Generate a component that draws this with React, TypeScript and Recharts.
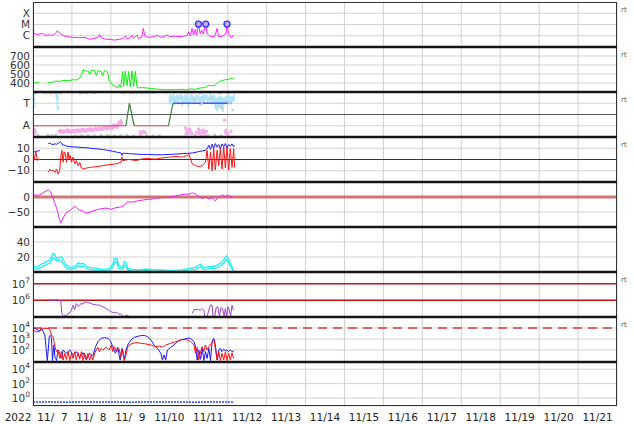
import React from 'react';
import { ComposedChart, Line, Scatter, XAxis, YAxis, CartesianGrid, ReferenceLine } from 'recharts';

type P = [number, number | null];
const pts = (a: P[]) => a.map(([h, v]) => ({ h, v }));

// hours since 2022-11-07 00:00
const dayTicks = [0, 24, 48, 72, 96, 120, 144, 168, 192, 216, 240, 264, 288, 312, 336, 360];
const noonTicks = [12, 36, 60, 84, 108, 132, 156, 180, 204, 228, 252, 276, 300, 324, 348];
const dayLabels = ['11/\u20077', '11/\u20078', '11/\u20079', '11/10', '11/11', '11/12', '11/13', '11/14', '11/15', '11/16', '11/17', '11/18', '11/19', '11/20', '11/21'];
const yearLabel = '2022';

// Panel 1: X-ray flux
const xrayFlux: P[] = [
  [0, 4.8e-5], [0.5, 1.6e-6], [3.1, 1.3e-6], [5.9, 1.6e-6], [8.0, 1.07e-6], [10.0, 1.2e-6], [12.0, 1.07e-6],
  [13.9, 1.6e-6], [14.9, 2.8e-6], [16.9, 1.6e-6], [19.0, 1.0e-6], [22, 8.2e-7], [25, 7.1e-7], [28, 6.7e-7],
  [32, 7.1e-7], [35, 4.8e-7], [40, 7.1e-7], [41, 1.3e-6], [42, 6.7e-7], [45, 4.8e-7], [48, 4.8e-7], [50, 4.1e-7],
  [53, 4.8e-7], [55, 5.4e-7], [57, 9.3e-7], [58, 5.1e-7], [60, 7.1e-7], [61, 1.07e-6], [62, 5.8e-7], [64, 1.15e-6],
  [65, 5.8e-7], [67, 7.1e-7], [68, 4.5e-6], [69, 9.3e-7], [71, 7.1e-7], [74, 8.2e-7], [77, 1.07e-6], [79, 7.1e-7],
  [83, 1.2e-6], [84, 8.2e-7], [87, 9.3e-7], [90, 8.2e-7], [93, 9.3e-7], [95, 1.07e-6], [96, 2.2e-6], [97, 9.3e-7],
  [98, 4.5e-6], [99, 1.15e-6], [100, 3.6e-6], [101, 1.15e-6], [102, 1.2e-5], [103, 1.6e-6], [104, 3.2e-6],
  [105, 1.4e-6], [106.5, 1.2e-5], [107.5, 1.4e-6], [109, 9.3e-7], [112, 8.2e-7], [113.5, 4.5e-6], [114.5, 8.2e-7],
  [117, 9.3e-7], [119, 1.6e-6], [119.6, 1.2e-5], [120.5, 1.6e-6], [122, 7.1e-7], [124, 1.07e-6],
];
const flareEvents: P[] = [[102, 1.1e-5], [106.5, 1.1e-5], [119.6, 1.1e-5]];
const xrayTicks = [1e-6, 1e-5, 1e-4];
const xrayClass = ['C', 'M', 'X'];

// Panel 2: solar wind speed
const windSpeed: P[] = [
  [0, 404], [1, 400], [2, 405], [3.9, 403], [6, null],
  [9.0, 400], [10, 404], [12, 407], [13.9, 422], [16, 418], [19, 429], [22, 426], [24.9, 437], [26.9, 433],
  [29, 455], [30, 492], [30.8, 546], [32, 539], [32.9, 528], [33.9, 539], [34.9, 492], [35.9, 539], [38, 539],
  [39, 481], [40, 539], [42, 528], [43, 481], [44.1, 539], [45.9, 528], [47.1, 418], [48, 400], [50, 371],
  [51.2, 356], [52, 345], [53.1, 382], [54.1, 356], [55.3, 528], [55.9, 363], [56.9, 535], [58, 371], [59, 528],
  [60, 356], [61, 535], [62, 363], [63.1, 528], [64.1, 356], [65, 345], [66.9, 349], [70, 345], [73.1, 338],
  [75.9, 334], [79, 327], [82, 323], [84.9, 327], [88, 323], [91, 330], [94.1, 323], [96.9, 334], [100, 330],
  [103.1, 345], [105.9, 349], [108, 371], [110, 371], [112, 371], [113.1, 393], [114.9, 418], [116.9, 429],
  [119, 437], [121, 444], [123.1, 451], [124.1, 437],
];
const speedTicks = [400, 500, 600, 700];

// Panel 3: IMF sector (A=1, T=3)
const sectorAway: P[] = [[0, 1], [57.3, 1], [59, null], [62.4, 1], [83.5, 1]];
const sectorTurn: P[] = [[57.3, 1], [59.4, 3], [62.4, 1], [70, null], [83.5, 1], [86.3, 3]];
const sectorToward: P[] = [[86.3, 3], [122.2, 3]];
const towardCloud: P[] = [
  [84.0, 3.0], [84.5, 3.8], [85.0, 2.9], [85.5, 3.7], [86.0, 3.2], [86.6, 3.85], [87.2, 2.8], [87.8, 3.6],
  [88.4, 3.1], [89.0, 3.8], [89.6, 2.9], [90.2, 3.7], [90.8, 3.3], [91.4, 3.85], [92.0, 2.7], [92.6, 3.6],
  [93.2, 3.0], [93.8, 3.8], [94.4, 3.1], [95.0, 3.7], [95.6, 2.6], [96.2, 3.5], [96.8, 3.0], [97.4, 3.8],
  [98.0, 3.2], [98.6, 3.7], [99.2, 2.9], [99.8, 3.6], [100.4, 3.1], [101.0, 3.8], [101.6, 3.3], [102.2, 3.7],
  [102.8, 2.8], [103.4, 3.6], [104.0, 3.2], [104.6, 3.85], [105.2, 3.0], [105.8, 3.7], [106.4, 3.3], [107.0, 3.8],
  [107.6, 2.9], [108.2, 3.6], [108.8, 3.2], [109.4, 3.8], [110.0, 2.9], [110.6, 3.7], [111.2, 3.0], [111.8, 3.8],
  [112.4, 2.5], [113.0, 3.5], [113.6, 2.3], [114.2, 3.6], [114.8, 2.6], [115.4, 3.7], [116.0, 2.4], [116.6, 3.6],
  [117.2, 2.2], [117.8, 3.5], [118.4, 2.9], [119.0, 3.7], [119.6, 3.0], [120.2, 3.8], [120.8, 3.1], [121.4, 3.7],
  [122.0, 2.9], [122.6, 3.6], [123.2, 3.1], [123.8, 3.8], [124.2, 3.2],
];
const towardDots: P[] = [
  [0.2, 3.5], [0.4, 3.0], [0.6, 2.7], [0.8, 3.3], [1.0, 3.8], [14.4, 3.9], [14.6, 3.6], [14.7, 3.8], [14.8, 3.3],
  [15.0, 3.0], [15.2, 2.7], [15.4, 2.5], [15.1, 3.5],
];
const awayBand: P[] = [
  [15.5, 0.4], [17, 0.55], [18.5, 0.45], [20, 0.5], [21.5, 0.6], [23, 0.45], [24.5, 0.55], [26, 0.5], [27.5, 0.6],
  [29, 0.55], [30.5, 0.65], [32, 0.55], [33.5, 0.6], [35, 0.7], [36.5, 0.6], [38, 0.7], [39.5, 0.65], [41, 0.75],
  [42.5, 0.7], [44, 0.85], [45.5, 0.75], [47, 0.9], [48.5, 0.8], [50, 1.0], [51.5, 0.9], [53, 1.2], [54, 1.35], [55, 1.1],
];
const awayDots: P[] = [
  [0.2, 0.5], [0.6, 0.3], [1, 0.7], [1.5, 0.4], [66, 0.45], [67, 0.35], [68, 0.5], [69, 0.4], [94, 0.8], [94.5, 0.3],
  [95, 0.6], [96, 0.35], [96.5, 0.7], [97, 0.5], [98, 0.3], [101, 0.4], [102, 0.7], [102.5, 0.3], [103, 0.55],
  [104, 0.35], [105, 0.6], [105.5, 0.4], [106, 0.25], [107, 0.5], [118, 1.5], [118.5, 0.4], [119, 0.6], [120, 0.3],
  [122, 0.5],
];
const grayDots: P[] = [
  [0.5, 3.9], [2, 3.95], [7, 3.9], [9, 3.95], [11, 3.9], [13, 3.95], [17, 3.9], [24, 3.95], [29, 3.9], [31, 3.95],
  [33, 3.9], [36, 3.95], [38, 3.9], [55, 3.9], [57, 3.95], [60, 3.9], [62, 3.95], [64, 3.9], [66, 3.95], [68, 3.9],
  [70, 3.95], [72, 3.9], [74, 3.95], [95, 3.9], [98, 3.95], [103, 3.9], [109, 3.95], [115, 3.9], [121, 3.95],
  [100, 3.3], [104, 2.9], [110, 3.5], [116, 2.6], [121, 3.0], [123, 2.4],
  [3, 0.15], [9, 0.2], [10, 0.1], [12, 0.15], [14, 0.2], [26, 0.1], [30, 0.15], [34, 0.2], [38, 0.1], [42, 0.15],
  [46, 0.2], [50, 0.1], [54, 0.15], [58, 0.2], [62, 0.1], [66, 0.15], [70, 0.2], [74, 0.1], [78, 0.15], [100, 0.2],
  [104, 0.1], [108, 0.15], [112, 0.2], [116, 0.1], [120, 0.15],
];
const sectorTicks = [1, 2, 3];
const sectorLabels: Record<number, string> = { 1: 'A', 2: '', 3: 'T' };

// Panel 4: IMF Bt and Bz
const imfBt: P[] = [
  [0.6, 6.7], [1.8, 7.3], [3.1, 7.6], [4.3, 7.9], [6, null],
  [9.4, 14.2], [10.4, 14.5], [11.4, 13.6], [12.4, 13.3], [13.5, 13.9], [14.5, 13.6], [15.5, 14.2], [16.1, 14.8],
  [16.9, 15.8], [17.6, 14.5], [18.2, 12.7], [19, 13.0], [20.6, 11.8], [22.7, 11.5], [24.7, 11.2], [27.8, 11.0],
  [30.8, 10.6], [33.9, 10.3], [36.9, 9.7], [40, 9.4], [43.1, 8.8], [46.1, 8.2], [49.2, 7.3], [52, 6.4], [54.3, 5.8],
  [54.9, 3.6], [55.3, 5.5], [57.3, 5.5], [59.4, 5.2], [63.5, 4.8], [67.6, 4.5], [71, 4.5], [75.7, 4.2], [79.8, 4.2],
  [83.9, 4.5], [88, 4.8], [92, 5.2], [95.1, 5.5], [98.2, 5.8], [102.2, 7.0], [104.3, 7.6], [106.3, 8.2], [107.3, 9.5],
  [108.4, 12.7], [109.4, 9.0], [110.4, 13.6], [111.4, 10.0], [112.4, 14.2], [113.5, 11.0], [114.5, 13.3],
  [115.5, 9.5], [116.5, 13.9], [117.6, 11.5], [118.6, 14.2], [119.6, 10.3], [120.6, 13.3], [121.6, 11.8],
  [122.7, 13.9], [123.7, 11.2], [124.2, 12.7],
];
const imfBz: P[] = [
  [0, 3.6], [0.6, -0.9], [1.0, 2.1], [1.8, 6.7], [2.7, -0.9], [3.5, 0.6], [4.3, -0.3], [6, null],
  [9.4, -11.5], [10.4, -8.5], [11.4, -10], [12.4, -9.4], [13.5, -11.5], [14.5, -8.5], [15.5, -13], [16.5, -9.4],
  [17.1, 2.1], [17.8, 8.2], [18.6, -2.4], [19.2, 6.7], [20.0, 5.2], [20.6, -2.4], [21.6, 6.7], [22.2, 0.6],
  [22.9, 3.6], [23.7, -2.4], [24.7, 2.1], [25.7, -3.9], [26.7, -0.9], [27.8, -5.5], [28.8, -2.4], [29.8, -7.6],
  [30.8, -8.5], [32.9, -7.6], [34.9, -7.0], [39, -6.4], [43.1, -5.5], [47.1, -4.5], [51.2, -3.9], [54.3, -2.4],
  [54.9, 2.1], [55.3, -0.9], [59.4, 0], [63.5, -0.9], [67.6, 0.6], [71, 0.9], [75.7, 0.3], [79.8, 1.5], [83.9, 2.1],
  [88, 2.7], [92, 2.1], [95.1, 3.6], [96.1, 4.5], [98.2, -3.9], [100.2, -5.5], [102.2, -6.4], [104.3, -5.5],
  [106.3, -2.4], [107.3, 8.2], [108.4, -8.5], [109.4, 6.7], [110.4, -10], [111.4, 9.7], [112.4, -9.4], [113.5, 8.2],
  [114.5, -5.5], [115.5, 9.7], [116.5, -8.5], [117.6, 11.2], [118.6, -7.6], [119.6, 11.2], [120.6, -9.4],
  [121.6, 9.7], [122.7, -7.0], [123.7, 9.7], [124.3, -7.0],
];
const imfTicks = [-10, 0, 10];

// Panel 5: Dst
const dstIndex: P[] = [
  [0, 10], [1.2, 6.7], [3.3, 5.6], [5.3, 10], [7.3, 17.8], [9.4, 23.3], [10.8, 17.8], [12.0, 1.1], [13.5, -21],
  [14.9, -43], [16.1, -71], [17.1, -86], [18.0, -77], [19.0, -66], [20.2, -54], [21.6, -49], [23.7, -41],
  [25.3, -32], [26.7, -34], [28.4, -43], [30.4, -46], [32.4, -54], [34.5, -51], [36.9, -47], [39.0, -43],
  [42.0, -39], [45.1, -37], [48.2, -41], [50.8, -36], [53.3, -34], [55.3, -32], [56.9, -23], [58.4, -16],
  [61.4, -17], [64.5, -13], [67.6, -10], [70.6, -8], [73.7, -7], [76.7, -3], [79.8, -2], [83.9, -1], [88.0, 3],
  [91.0, 7], [94.1, 10], [96.1, 9], [98.2, 14], [100.2, 10], [102.2, 1], [104.3, -4], [106.3, -1], [108.4, -7],
  [110.4, -1], [111.4, -8], [112.4, -13], [113.7, -4], [115.5, 1], [116.9, 7], [118.6, 1], [120.0, 6], [121.6, 1],
  [123.7, 1],
];
const dstTicks = [-50, 0];

// Panel 6: two cyan indices
const indexUpper: P[] = [
  [0, 8], [2.2, 6.2], [4.3, 9.3], [6.3, 11.6], [8.4, 13.8], [10.4, 16], [12.4, 24.9], [13.5, 22.7], [14.5, 18.2],
  [16.1, 19.6], [17.6, 20.4], [18.6, 16], [20.6, 9.3], [22.7, 6.2], [24.7, 6.7], [26.7, 9.3], [27.8, 12.4],
  [28.8, 10.7], [30.8, 11.6], [32.9, 8], [34.9, 6.2], [39, 4.9], [43.1, 3.6], [47.1, 4.4], [49.2, 10.7],
  [50.2, 18.2], [51.8, 18.2], [52.7, 9.3], [54.3, 6.2], [55.3, 6.2], [56.3, 13.8], [57.3, 12.4], [58.4, 4.9],
  [61.4, 3.6], [65.5, 2.7], [69.6, 4.0], [73.7, 2.7], [79.8, 2.7], [85.9, 1.8], [92, 2.7], [96.1, 4.9], [100.2, 6.2],
  [103.3, 10.7], [105.3, 6.2], [108.4, 7.1], [112.4, 8], [115.5, 11.6], [117.6, 16.9], [119, 21.3], [120.2, 18.2],
  [121.2, 13.8], [122.2, 9.3], [123.7, 2.7],
];
const indexLower: P[] = [
  [0, 5], [2.2, 3.5], [4.3, 5.5], [6.3, 7.5], [8.4, 10], [10.4, 12], [12.4, 19], [13.5, 17], [14.5, 15], [16.1, 16],
  [17.6, 14], [18.6, 11], [20.6, 5.5], [22.7, 3.5], [24.7, 4], [26.7, 6], [27.8, 8.5], [28.8, 7], [30.8, 8],
  [32.9, 5], [34.9, 3.5], [39, 2.5], [43.1, 1.5], [47.1, 2], [49.2, 6], [50.2, 13], [51.8, 13], [52.7, 5],
  [54.3, 3.5], [55.3, 3.5], [56.3, 9], [57.3, 8], [58.4, 2.5], [61.4, 1.5], [65.5, 1], [69.6, 2], [73.7, 1],
  [79.8, 1], [85.9, 0.7], [92, 1.2], [96.1, 2.5], [100.2, 3.5], [103.3, 7], [105.3, 3.5], [108.4, 4.5], [112.4, 5],
  [115.5, 8], [117.6, 12], [119, 16.5], [120.2, 14], [121.2, 9.5], [122.2, 5.5], [123.7, 1],
];
const indexTicks = [20, 40];

// Panel 7: electron flux
const electronFlux: P[] = [
  [9.4, 1.1e6], [10.4, 1e6], [11.4, 1.15e6], [12.4, 1e6], [14.5, 1.1e6], [16.1, 1e6], [17.1, 9.1e5], [17.8, 1.65e5],
  [18.6, 1.05e5], [19.6, 1.3e5], [20.6, 1.14e5], [21.6, 1.65e5], [22.7, 1.8e5], [23.7, 2.6e5], [24.7, 5.1e5],
  [25.7, 2.8e5], [26.7, 6.4e5], [27.8, 4.4e5], [28.8, 5.1e5], [29.8, 6.9e5], [30.8, 5.8e5], [31.8, 8e5],
  [32.9, 7.6e5], [34.9, 6.9e5], [36.9, 5.8e5], [39, 5.3e5], [41, 5.1e5], [43.1, 4.1e5], [45.1, 3.2e5],
  [47.1, 2.4e5], [48.2, 2.1e5], [49.2, 1.9e5], [50.2, 1.8e5], [51.6, 1.9e5], [52.9, 1.5e5], [54.3, 1.45e5],
  [55.3, 1.14e5], [56.3, 1.05e5], [57.3, 1.2e5], [58.4, 1.3e5], [59, 1.05e5], [60, null],
  [98.2, 1.65e5], [99.2, 2.8e5], [101.2, 2.8e5], [103.3, 2.6e5], [104.3, 3.2e5], [105.3, 2.6e5], [105.9, 1.14e5],
  [107.3, 1.05e5], [108.4, 2.6e5], [109.4, 5.1e5], [110.4, 5.1e5], [111.0, 1.14e5], [112.0, 1.05e5],
  [112.9, 3.7e5], [113.9, 4.1e5], [114.9, 1.14e5], [115.9, 3.7e5], [116.9, 3.2e5], [117.8, 1.14e5], [118.6, 3.2e5],
  [119.4, 1.14e5], [120.2, 4.1e5], [121.0, 2.6e5], [121.8, 1.14e5], [122.7, 5.1e5], [123.5, 2.6e5],
];
const electronTicks = [1e6, 1e7];
const electronAlerts = [1e6, 1e7];

// Panel 8: proton flux
const protonBlue: P[] = [
  [0, 1.15e4], [1.2, 9.3e3], [2.2, 7.6e3], [3.9, 5.7e3], [5.3, 9.3e3], [6.3, 4.6e3], [7.3, 2.3e3], [8.0, 200],
  [8.8, 10.7], [9.4, 100], [10.0, 1.6e3], [10.8, 2.3e3], [11.4, 1.15e3], [12.0, 10.7], [12.9, 280], [13.5, 25],
  [14.5, 10.7], [15.5, 100], [16.5, 50], [17.6, 17], [18.6, 100], [20.6, 50], [22.7, 100], [24.7, 35], [26.7, 70],
  [28.8, 21], [30.8, 57], [32.9, 12], [34.9, 50], [36.9, 28], [38.6, 200], [40, 570], [42, 1.15e3], [44.1, 1.3e3],
  [46.1, 1.15e3], [47.6, 700], [49.2, 200], [50.8, 50], [52.2, 175], [53.7, 12], [54.9, 140], [56.3, 12], [57.3, 100],
  [58.4, 280], [60.4, 810], [62.4, 1.4e3], [65.5, 1.9e3], [68.6, 2.15e3], [70.6, 1.6e3], [72.7, 810], [74.7, 280],
  [76.7, 140], [78.8, 50], [79.8, 12], [80.8, 35], [81.8, 12], [82.9, 100], [84.9, 175], [86.9, 280], [89, 570],
  [91, 810], [93.1, 940], [95.1, 1.15e3], [97.1, 1.15e3], [99.2, 570], [100.2, 200], [101.2, 12], [102.2, 100],
  [103.3, 14], [104.3, 140], [105.3, 10.7], [106.3, 70], [107.3, 17], [108.4, 140], [109.4, 10.7], [110.4, 570],
  [111.4, 1.15e3], [112.4, 280], [113.5, 12], [114.5, 100], [115.5, 140], [116.5, 70], [117.6, 115], [118.6, 87],
  [119.6, 100], [120.6, 70], [121.6, 100], [122.7, 70], [123.7, 81],
];
const protonRed: P[] = [
  [0, 7.6e3], [1.2, 5e3], [2.2, 4.6e3], [3.9, 4.6e3], [5.3, 7.6e3], [7.3, 9.3e3], [9.4, 9.3e3], [10.4, 6.6e3],
  [11.4, 2.3e3], [12.4, 1.6e3], [13.5, 200], [14.5, 70], [15.5, 100], [16.5, 17], [17.6, 70], [18.6, 12], [19.6, 50],
  [20.6, 14], [21.6, 70], [22.7, 10.7], [23.7, 50], [24.7, 17], [25.7, 70], [26.7, 12], [27.8, 57], [28.8, 14],
  [29.8, 70], [30.8, 10.7], [31.8, 50], [32.9, 17], [33.9, 50], [34.9, 12], [35.9, 35], [36.9, 12], [38, 50], [39, 100],
  [40, 175], [41, 70], [42, 140], [43.1, 100], [45.1, 175], [47.1, 100], [48.2, 280], [49.2, 70], [50.2, 200],
  [51.6, 70], [52.9, 140], [54.3, 25], [55.3, 100], [56.3, 10.7], [57.3, 35], [58.4, 200], [60.4, 350], [63.5, 470],
  [66.5, 410], [69.6, 350], [72.7, 280], [75.7, 200], [77.8, 230], [79.8, 175], [81.8, 280], [84.9, 410], [88, 570],
  [91, 810], [93.1, 940], [95.1, 810], [97.1, 570], [99.2, 280], [100.2, 50], [101.2, 175], [102.2, 12], [103.3, 70],
  [104.3, 200], [105.3, 70], [106.3, 280], [107.3, 100], [108.4, 200], [110, 410], [111.4, 940], [112.4, 140],
  [113.5, 12], [114.5, 70], [115.5, 10.7], [116.5, 50], [117.6, 12], [118.6, 70], [119.6, 10.7], [120.6, 50],
  [121.6, 12], [122.7, 57], [123.7, 17],
];
const protonTicks = [1e2, 1e3, 1e4];
const protonAlert = 1e4;

// Panel 9
const bottomFlux: P[] = [
  [0, 0.28], [10, 0.3], [20, 0.27], [30, 0.3], [40, 0.28], [50, 0.29], [60, 0.27], [70, 0.3], [80, 0.28], [90, 0.29],
  [100, 0.27], [110, 0.3], [120, 0.28], [124, 0.29],
];
const bottomTicks = [1e0, 1e2, 1e4];

// ---------- layout ----------
const FONT = 'DejaVu Sans';
const W = 634;
const PANEL_H = 45;
const LAST_H = 44;
const LABEL_BASE = 15; // baseline of date labels below the last plot
const panelTops = [2, 47, 92, 137, 182, 227, 272, 317, 362];
const PLOT_L = 33;
const PLOT_R = 617;
const rtRows = [0, 1, 2, 3, 6, 7];

const tickStyle = { fontSize: 10.5, fill: '#333', fontFamily: FONT };

const PowTick = (props: any) => {
  const { x, y, payload } = props;
  const e = Math.round(Math.log10(payload.value));
  return (
    <text x={x} y={y + 4} textAnchor="end" fontSize={10.5} fill="#333" fontFamily={FONT}>
      <tspan>10</tspan>
      <tspan dy={-5} fontSize={7.5}>{e}</tspan>
    </text>
  );
};

const DateTick = (props: any) => {
  const { x, payload } = props;
  return (
    <text x={x} y={LAST_H + LABEL_BASE} textAnchor="middle" fontSize={10.5} fill="#222" fontFamily={FONT}>
      {dayLabels[Math.round((payload.value - 12) / 24)]}
    </text>
  );
};

const dot = (color: string, s: number) => (p: any) =>
  p.cx == null || p.cy == null ? <g /> : <rect x={p.cx - s / 2} y={p.cy - s / 2} width={s} height={s} fill={color} />;

const flareShape = (p: any) => (
  <circle cx={p.cx} cy={p.cy} r={3} fill="#c8a8ff" stroke="#3030ff" strokeWidth={1.3} />
);

function line(key: string, data: P[], color: string, w = 1, extra: any = {}) {
  return (
    <Line key={key} data={pts(data)} dataKey="v" type="linear" stroke={color} strokeWidth={w} dot={false}
      isAnimationActive={false} connectNulls={false} {...extra} />
  );
}

function Panel(props: {
  idx: number; domain: [number, number]; ticks: number[]; log?: boolean; fmt?: (v: number) => string;
  pow?: boolean; last?: boolean; children: React.ReactNode;
}) {
  const { idx, domain, ticks, log, fmt, pow, last, children } = props;
  const plotH = last ? LAST_H : PANEL_H;
  const axisH = 18;
  return (
    <div style={{ position: 'absolute', left: 0, top: panelTops[idx] }}>
      <ComposedChart width={W} height={last ? plotH + axisH : plotH} margin={{ top: 0, right: W - PLOT_R, bottom: 0, left: 0 }}
        style={{ overflow: 'visible' }}>
        <CartesianGrid stroke="#d2d2d2" strokeWidth={1} />
        <XAxis type="number" dataKey="h" domain={[0, 360]} ticks={dayTicks} hide allowDataOverflow />
        {last ? (
          <XAxis xAxisId="lab" type="number" dataKey="h" domain={[0, 360]} ticks={noonTicks} interval={0}
            axisLine={false} tickLine={false} tickSize={0} tickMargin={0} height={axisH}
            tick={<DateTick />} allowDataOverflow />
        ) : null}
        <YAxis type="number" domain={domain} ticks={ticks} scale={log ? 'log' : 'linear'} allowDataOverflow
          width={PLOT_L} axisLine={false} tickLine={false} tickSize={0} tickMargin={3} interval={0}
          tick={pow ? <PowTick /> : tickStyle} tickFormatter={fmt} />
        {children}
      </ComposedChart>
    </div>
  );
}

const minus = (v: number) => (v < 0 ? '\u2212' + Math.abs(v) : String(v));

export default function App() {
  return (
    <div style={{ position: 'absolute', left: 0, top: 0, width: W, height: 424, background: '#fff', overflow: 'hidden' }}>
      <Panel idx={0} domain={[1e-7, 1e-3]} ticks={xrayTicks} log
        fmt={(v) => xrayClass[Math.round(Math.log10(v)) + 6] ?? ''}>
        {line('xray', xrayFlux, '#ff22ff')}
        <Scatter key="flares" data={pts(flareEvents)} dataKey="v" shape={flareShape} isAnimationActive={false} />
      </Panel>

      <Panel idx={1} domain={[300, 800]} ticks={speedTicks}>
        {line('speed', windSpeed, '#11ee11')}
      </Panel>

      <Panel idx={2} domain={[0, 4]} ticks={sectorTicks} fmt={(v) => sectorLabels[v] ?? ''}>
        <ReferenceLine y={2} stroke="#5a5a5a" strokeWidth={1} />
        <Scatter key="gray" data={pts(grayDots)} dataKey="v" shape={dot('#cfcfcf', 2.5)} isAnimationActive={false} />
        {line('tcloud', towardCloud, '#aee3fb', 1.6)}
        <Scatter key="tdots" data={pts(towardDots)} dataKey="v" shape={dot('#aee3fb', 2.5)} isAnimationActive={false} />
        {line('aband', awayBand, '#f5aaec', 4)}
        <Scatter key="adots" data={pts(awayDots)} dataKey="v" shape={dot('#f5aaec', 3)} isAnimationActive={false} />
        {line('secA', sectorAway, '#dd4444', 1.2)}
        {line('secX', sectorTurn, '#3f7f3f', 1.2)}
        {line('secT', sectorToward, '#5555ee', 1.4)}
      </Panel>

      <Panel idx={3} domain={[-20, 20]} ticks={imfTicks} fmt={minus}>
        <ReferenceLine y={0} stroke="#b00000" strokeWidth={1.2} />
        {line('bt', imfBt, '#1a1aff')}
        {line('bz', imfBz, '#ff1111')}
      </Panel>

      <Panel idx={4} domain={[-100, 50]} ticks={dstTicks} fmt={minus}>
        <ReferenceLine y={0} stroke="#d27474" strokeWidth={3} />
        {line('dst', dstIndex, '#ee22ee')}
      </Panel>

      <Panel idx={5} domain={[0, 60]} ticks={indexTicks}>
        {line('idxU', indexUpper, '#22f0f0', 1.3)}
        {line('idxL', indexLower, '#22f0f0', 1.3)}
      </Panel>

      <Panel idx={6} domain={[1e5, 5e7]} ticks={electronTicks} log pow>
        {electronAlerts.map((a) => <ReferenceLine key={'e' + a} y={a} stroke="#c41414" strokeWidth={1.5} />)}
        {line('ele', electronFlux, '#a040d8')}
      </Panel>

      <Panel idx={7} domain={[8, 1e5]} ticks={protonTicks} log pow>
        <ReferenceLine y={protonAlert} stroke="#e03a3a" strokeWidth={1.5} strokeDasharray="9 6" />
        {line('pb', protonBlue, '#1a1aff')}
        {line('pr', protonRed, '#ff1111')}
      </Panel>

      <Panel idx={8} domain={[0.08, 1e5]} ticks={bottomTicks} log pow last>
        {line('bf', bottomFlux, '#2244ff', 1.5, { strokeDasharray: '2 1' })}
      </Panel>

      <svg width={W} height={424} style={{ position: 'absolute', left: 0, top: 0, pointerEvents: 'none' }}>
        <rect x={PLOT_L + 0.5} y={panelTops[0] + 0.5} width={PLOT_R - PLOT_L - 1} height={406 - panelTops[0] - 1}
          fill="none" stroke="#333" strokeWidth={1} />
        {panelTops.slice(1).map((t) => (
          <line key={t} x1={PLOT_L} x2={PLOT_R} y1={t} y2={t} stroke="#151515" strokeWidth={2.5} />
        ))}
        {rtRows.map((i) => (
          <text key={'rt' + i} x={621} y={panelTops[i] + 10} fontSize={7} fill="#555" fontFamily={FONT}>rt</text>
        ))}
        <text x={18} y={panelTops[8] + LAST_H + LABEL_BASE} textAnchor="middle" fontSize={10.5} fill="#222" fontFamily={FONT}>{yearLabel}</text>
      </svg>
    </div>
  );
}
